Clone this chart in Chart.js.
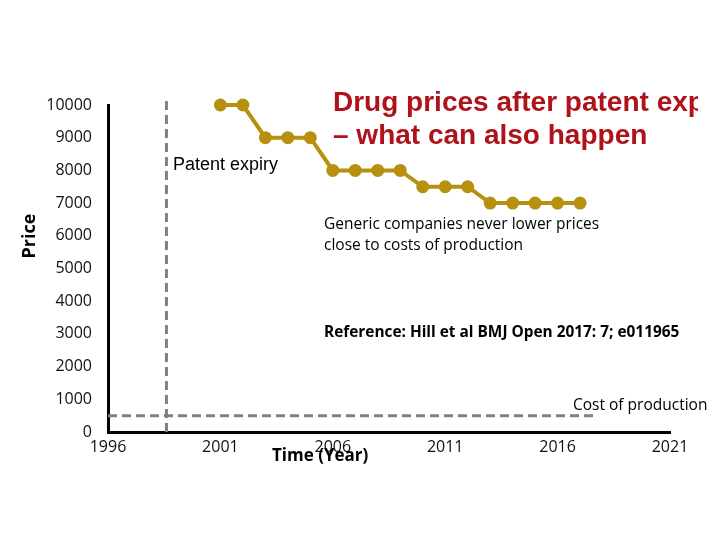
<!DOCTYPE html>
<html>
<head>
<meta charset="utf-8">
<script src="https://cdn.jsdelivr.net/npm/chart.js@4"></script>
<style>
  html, body { margin: 0; padding: 0; background: #fff; }
  #wrap { width: 720px; height: 540px; }
</style>
</head>
<body>
<div id="wrap"><canvas id="chart" width="720" height="540"></canvas></div>
<script>
// ── Data ─────────────────────────────────────────────────────────────────────

const years = [2001, 2002, 2003, 2004, 2005, 2006, 2007, 2008, 2009, 2010, 2011, 2012, 2013, 2014, 2015, 2016, 2017];
const prices = [10000, 10000, 9000, 9000, 9000, 8000, 8000, 8000, 8000, 7500, 7500, 7500, 7000, 7000, 7000, 7000, 7000];

const xTicks = [1996, 2001, 2006, 2011, 2016, 2021];
const patentExpiryYear = 1998.6;
const costOfProduction = 500;
const costLineEnd = 2017.6;

const GOLD = '#b8900f';
const DASH_GREY = '#808080';

// ── Annotation text ──────────────────────────────────────────────────────────

const textPlugin = {
    id: 'slideText',
    afterDraw(chart) {
        const ctx = chart.ctx;
        ctx.save();
        ctx.textBaseline = 'middle';
        ctx.textAlign = 'left';

        // title box is cut off on the right, like on the slide
        ctx.save();
        ctx.beginPath();
        ctx.rect(0, 0, 698, 540);
        ctx.clip();
        ctx.fillStyle = '#b0121b';
        ctx.font = 'bold 28px "Liberation Sans", Arial, sans-serif';
        ctx.fillText('Drug prices after patent expiry', 333, 103);
        ctx.fillText('– what can also happen', 333, 136);
        ctx.restore();

        ctx.fillStyle = '#000';
        ctx.font = '18px "Liberation Sans", Arial, sans-serif';
        ctx.fillText('Patent expiry', 173, 165);

        ctx.font = '15.5px "Open Sans", sans-serif';
        ctx.fillText('Generic companies never lower prices', 324, 225);
        ctx.fillText('close to costs of production', 324, 246);
        ctx.fillText('Cost of production', 573, 406);

        ctx.font = 'bold 15.4px "Open Sans", sans-serif';
        ctx.fillText('Reference: Hill et al BMJ Open 2017: 7; e011965', 324, 333);

        ctx.font = 'bold 17px "Open Sans", sans-serif';
        ctx.fillText('Time (Year)', 272, 456);

        ctx.translate(30, 236);
        ctx.rotate(-Math.PI / 2);
        ctx.textAlign = 'center';
        ctx.font = 'bold 18px "Open Sans", sans-serif';
        ctx.fillText('Price', 0, 0);
        ctx.restore();
    },
};

// ── Chart ────────────────────────────────────────────────────────────────────

new Chart(document.getElementById('chart'), {
    type: 'line',
    data: {
        datasets: [
            {
                data: years.map((y, i) => ({ x: y, y: prices[i] })),
                borderColor: GOLD,
                backgroundColor: GOLD,
                borderWidth: 4,
                pointRadius: 4.5,
                tension: 0,
                clip: false,
            },
            {
                data: [{ x: patentExpiryYear, y: 0 }, { x: patentExpiryYear, y: 10250 }],
                borderColor: DASH_GREY,
                borderWidth: 3,
                borderDash: [9, 5],
                pointRadius: 0,
                clip: false,
            },
            {
                data: [{ x: xTicks[0], y: costOfProduction }, { x: costLineEnd, y: costOfProduction }],
                borderColor: DASH_GREY,
                borderWidth: 3,
                borderDash: [9, 5],
                pointRadius: 0,
                clip: false,
            },
        ],
    },
    options: {
        responsive: false,
        animation: false,
        layout: { padding: { top: 105, right: 50, left: 0, bottom: 0 } },
        plugins: {
            legend: { display: false },
            tooltip: { enabled: false },
        },
        scales: {
            x: {
                type: 'linear',
                min: xTicks[0],
                max: xTicks[xTicks.length - 1],
                afterBuildTicks: scale => { scale.ticks = xTicks.map(v => ({ value: v })); },
                afterFit: scale => { scale.height = 108; },
                grid: { display: false },
                border: { display: true, color: '#000', width: 3 },
                ticks: {
                    color: '#111',
                    padding: -2,
                    maxRotation: 0,
                    font: { family: 'Open Sans', size: 16 },
                    callback: v => String(v),
                },
            },
            y: {
                min: 0,
                max: 10000,
                afterFit: scale => { scale.width = 108; },
                grid: { display: false },
                border: { display: true, color: '#000', width: 3 },
                ticks: {
                    stepSize: 1000,
                    color: '#111',
                    padding: 8,
                    font: { family: 'Open Sans', size: 16 },
                    callback: v => String(v),
                },
            },
        },
    },
    plugins: [textPlugin],
});
</script>
</body>
</html>
